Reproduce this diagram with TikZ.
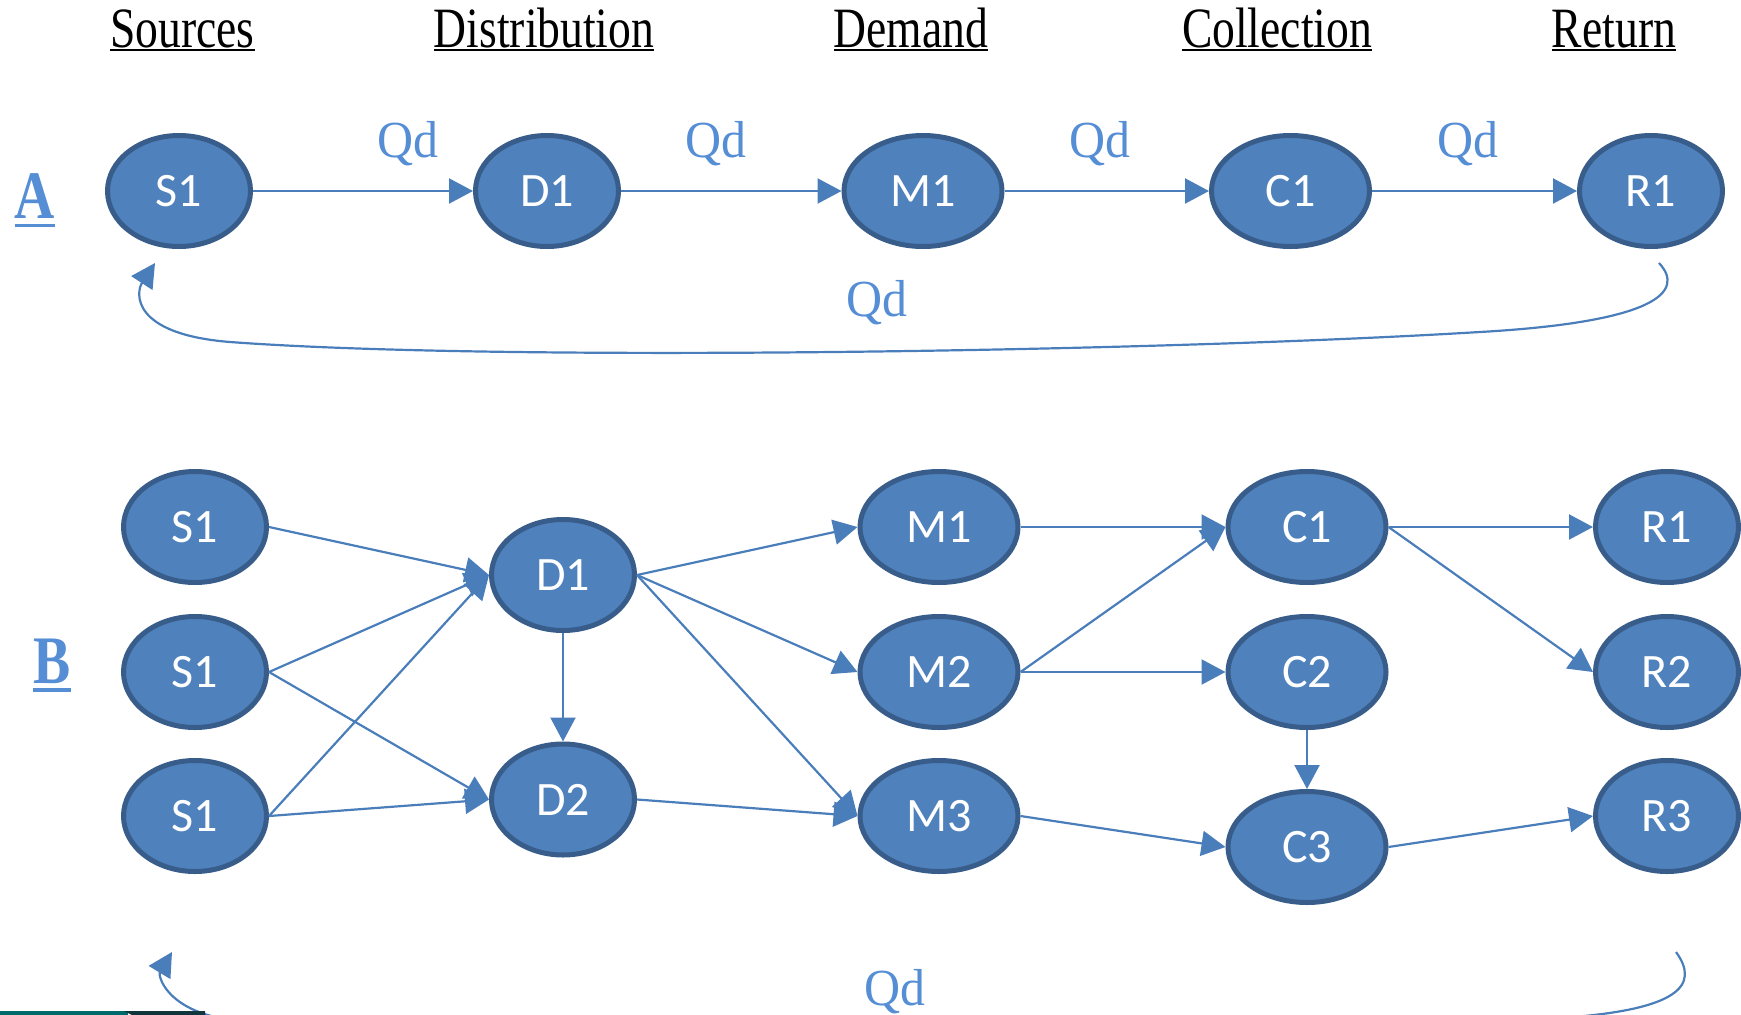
\documentclass[tikz,border=0pt]{standalone}
\usepackage{fontspec}
\setmainfont{Liberation Serif}
\newfontfamily\hdrfont[FakeStretch=0.8]{Liberation Serif}
\newfontfamily\qdfont[FakeStretch=0.96]{Liberation Serif}
\newfontfamily\lblfont[FakeStretch=0.82]{Liberation Serif}
\newfontfamily\nodefont{Carlito}
\usetikzlibrary{shapes.geometric,arrows.meta}
\definecolor{nfill}{RGB}{79,129,189}
\definecolor{nborder}{RGB}{56,93,138}
\definecolor{arrc}{RGB}{74,126,187}
\definecolor{lblc}{RGB}{85,142,213}
\definecolor{tealA}{RGB}{0,106,106}
\definecolor{tealB}{RGB}{16,54,60}
\tikzset{
  nd/.style={ellipse, fill=nfill, draw=nborder, line width=5pt,
    minimum width=143pt, minimum height=111pt, inner sep=0pt, text=white,
    font=\nodefont\fontsize{48}{56}\selectfont},
  ndw/.style={nd, minimum width=158pt},
  arr/.style={draw=arrc, line width=2.2pt, -{Triangle[length=24pt,width=25pt]}},
  hdr/.style={anchor=base, inner sep=0pt, font=\hdrfont\fontsize{57}{64}\selectfont},
  hline/.style={line width=2.6pt},
  qd/.style={anchor=base, inner sep=0pt, text=lblc, font=\qdfont\fontsize{52}{58}\selectfont},
  sec/.style={anchor=base, inner sep=0pt, text=lblc, font=\lblfont\bfseries\fontsize{68}{76}\selectfont},
}
\begin{document}
\begin{tikzpicture}[x=1pt,y=-1pt]
\useasboundingbox (0,0) rectangle (1741,1015);
\clip (0,0) rectangle (1741,1015);
% headers
\node[hdr] (h1) at (182.5,47) {Sources};
\node[hdr] (h2) at (544,47) {Distribution};
\node[hdr] (h3) at (911,47) {Demand};
\node[hdr] (h4) at (1277,47) {Collection};
\node[hdr] (h5) at (1614,47) {Return};
\foreach \h in {h1,h2,h3,h4,h5}
  \draw[hline] ([yshift=-3pt]\h.base west) -- ([yshift=-3pt]\h.base east);
% section labels
\node[sec] (la) at (35,218) {A};
\draw[line width=3pt, draw=lblc] ([yshift=-7.5pt]la.base west) -- ([yshift=-7.5pt]la.base east);
\node[sec] (lb) at (52,683) {B};
\draw[line width=3.5pt, draw=lblc] ([yshift=-7pt]lb.base west) -- ([yshift=-7pt]lb.base east);
% row A
\node[nd]  (aS) at (179,191) {S1};
\node[nd]  (aD) at (547,191) {D1};
\node[ndw] (aM) at (923,191) {M1};
\node[ndw] (aC) at (1290.5,191) {C1};
\node[nd]  (aR) at (1651,191) {R1};
\draw[arr] (aS.east) -- (aD.west);
\draw[arr] (aD.east) -- (aM.west);
\draw[arr] (aM.east) -- (aC.west);
\draw[arr] (aC.east) -- (aR.west);
\node[qd] (q1) at (408,157) {Qd};
\node[qd] (q2) at (716,157) {Qd};
\node[qd] (q3) at (1100,157) {Qd};
\node[qd] (q4) at (1468,157) {Qd};
\coordinate (aRet) at ([shift={(8,14)}]aR.south);
\coordinate (aEnd) at ([shift={(-24,14)}]aS.south);
\draw[arr] (aRet) .. controls (1686,292) and (1655,322) .. (1480,332)
  .. controls (1150,352) and (500,362) .. (230,342)
  .. controls (130,334) and (136,292) .. (aEnd);
\node[qd] (q5) at (877,316) {Qd};
% row B
\node[nd]  (bS1) at (195,527) {S1};
\node[nd]  (bS2) at (195,672) {S1};
\node[nd]  (bS3) at (195,816) {S1};
\node[nd]  (bD1) at (563,575) {D1};
\node[nd]  (bD2) at (563,799.5) {D2};
\node[ndw] (bM1) at (939,527) {M1};
\node[ndw] (bM2) at (939,672) {M2};
\node[ndw] (bM3) at (939,816) {M3};
\node[ndw] (bC1) at (1307,527) {C1};
\node[ndw] (bC2) at (1307,672) {C2};
\node[ndw] (bC3) at (1307,847) {C3};
\node[nd]  (bR1) at (1667,527) {R1};
\node[nd]  (bR2) at (1667,672) {R2};
\node[nd]  (bR3) at (1667,816) {R3};
\draw[arr] (bS1.east) -- (bD1.west);
\draw[arr] (bS2.east) -- (bD1.west);
\draw[arr] (bS2.east) -- (bD2.west);
\draw[arr] (bS3.east) -- (bD1.west);
\draw[arr] (bS3.east) -- (bD2.west);
\draw[arr] (bD1.south) -- (bD2.north);
\draw[arr] (bD1.east) -- (bM1.west);
\draw[arr] (bD1.east) -- (bM2.west);
\draw[arr] (bD1.east) -- (bM3.west);
\draw[arr] (bD2.east) -- (bM3.west);
\draw[arr] (bM1.east) -- (bC1.west);
\draw[arr] (bM2.east) -- (bC1.west);
\draw[arr] (bM2.east) -- (bC2.west);
\draw[arr] (bC2.south) -- (bC3.north);
\draw[arr] (bM3.east) -- (bC3.west);
\draw[arr] (bC1.east) -- (bR1.west);
\draw[arr] (bC1.east) -- (bR2.west);
\draw[arr] (bC3.east) -- (bR3.west);
\coordinate (bRet) at ([shift={(9,78)}]bR3.south);
\coordinate (bEnd) at ([shift={(-23,78)}]bS3.south);
\draw[arr] (bRet) .. controls (1700,985) and (1680,1010) .. (1560,1018)
  .. controls (1200,1040) and (600,1045) .. (230,1020)
  .. controls (165,1010) and (158,975) .. (bEnd);
\node[qd] (q6) at (895,1005) {Qd};
% strip at bottom left
\fill[tealA] (0,1011) rectangle (128,1015);
\fill[tealB] (124,1011) -- (205,1011) -- (205,1015) -- (132,1015) -- cycle;
\end{tikzpicture}
\end{document}
